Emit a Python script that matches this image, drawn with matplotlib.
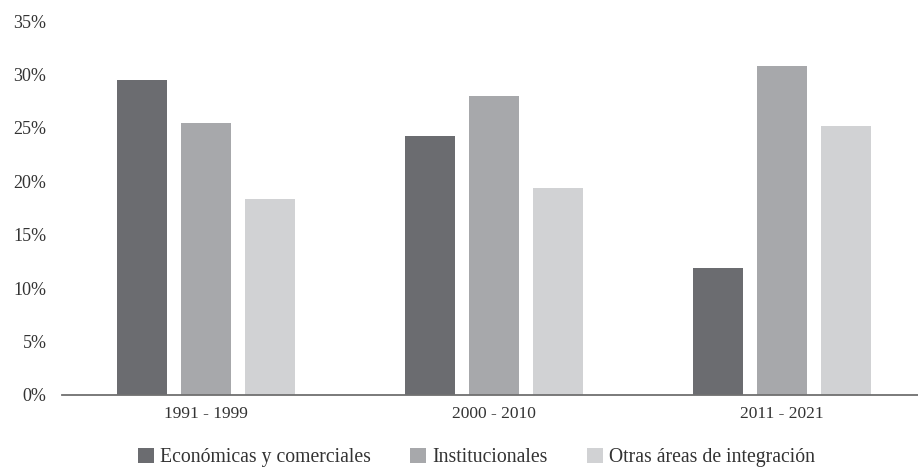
import numpy as np
import matplotlib
matplotlib.use("Agg")
import matplotlib.pyplot as plt

periods = ["1991 - 1999", "2000 - 2010", "2011 - 2021"]
series = ["Económicas y comerciales", "Institucionales", "Otras áreas de integración"]
economicas = [29.5, 24.2, 11.9]
institucionales = [25.5, 28.0, 30.8]
otras = [18.3, 19.4, 25.2]
colors = ["#6b6c70", "#a7a8ab", "#d1d2d4"]

plt.rcParams["font.family"] = ["Liberation Serif", "DejaVu Serif"]

fig = plt.figure(figsize=(9.18, 4.68), dpi=100)
ax = fig.add_axes([0.0672, 0.156, 0.933, 0.799])

x = np.arange(len(periods))
width = 0.174
step = 0.222
for i, (vals, name) in enumerate(zip([economicas, institucionales, otras], series)):
    ax.bar(x + (i - 1) * step, vals, width, color=colors[i], label=name)

ax.set_xlim(-0.5, 2.472)
ax.set_ylim(0, 35)
ax.set_yticks(range(0, 36, 5))
ax.set_yticklabels([f"{v}%" for v in range(0, 36, 5)])
ax.set_xticks(x)
ax.set_xticklabels(periods)

for s in ["top", "right", "left"]:
    ax.spines[s].set_visible(False)
ax.spines["bottom"].set_color("#707070")
ax.spines["bottom"].set_linewidth(1.3)
ax.tick_params(axis="y", length=0, pad=11, labelsize=13, colors="#333333")
ax.tick_params(axis="x", length=0, pad=8, labelsize=12.5, colors="#333333")

fig.legend(loc="center", bbox_to_anchor=(0.519, 0.023), ncol=3, frameon=False,
           fontsize=14.2, handlelength=0.8, handleheight=0.8, handletextpad=0.3,
           columnspacing=2.0, labelcolor="#333333")

fig.savefig("out.png", dpi=100)
